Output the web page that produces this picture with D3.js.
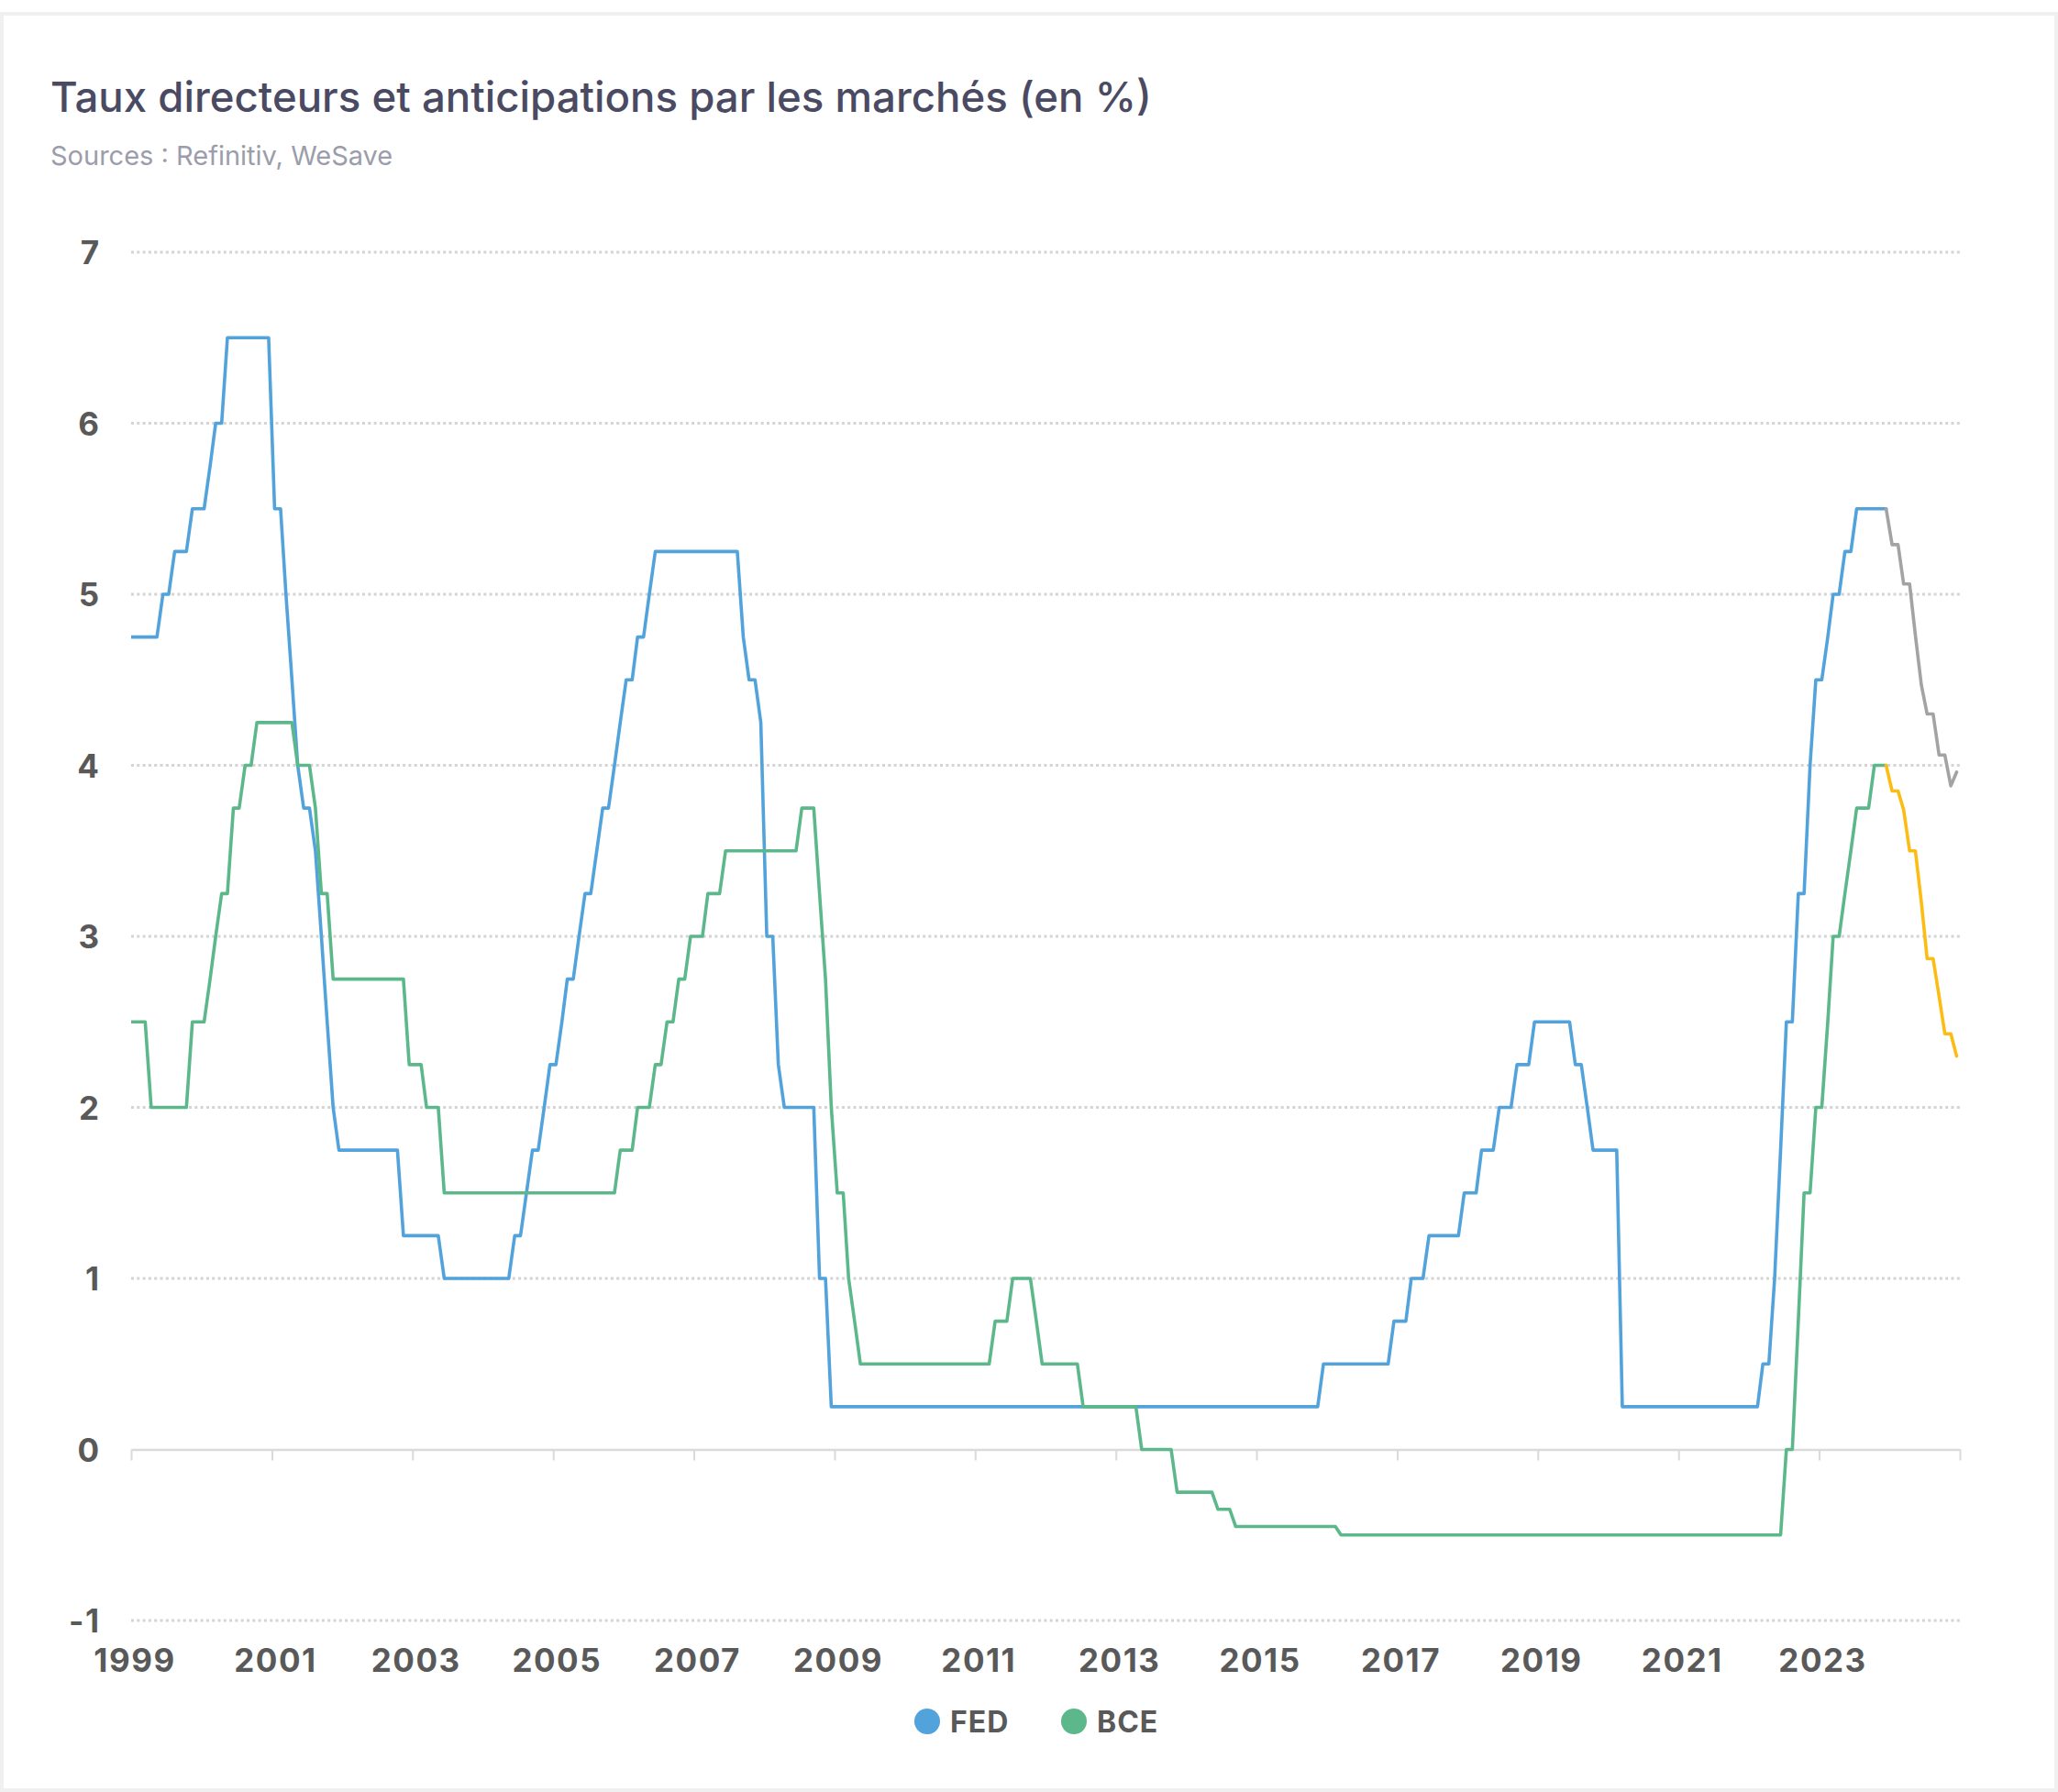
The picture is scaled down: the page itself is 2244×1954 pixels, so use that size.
<!DOCTYPE html>
<html>
<head>
<meta charset="utf-8">
<script src="https://cdn.jsdelivr.net/npm/d3@7"></script>
<style>
  html, body { margin: 0; padding: 0; background: #fff; }
  svg { display: block; font-family: Inter, "Noto Sans", sans-serif; }
</style>
</head>
<body>
<svg id="chart"></svg>
<script>
// rate after each decision month (value held until the next change)
const fedChangeMonths = ["1998-12", "1999-06", "1999-08", "1999-11", "2000-02", "2000-03", "2000-05",
  "2001-01", "2001-03", "2001-04", "2001-05", "2001-06", "2001-08", "2001-09", "2001-10", "2001-11", "2001-12",
  "2002-11", "2003-06", "2004-06", "2004-08", "2004-09", "2004-11", "2004-12",
  "2005-02", "2005-03", "2005-05", "2005-06", "2005-08", "2005-09", "2005-11", "2005-12",
  "2006-01", "2006-03", "2006-05", "2006-06", "2007-09", "2007-10", "2007-12",
  "2008-01", "2008-03", "2008-04", "2008-10", "2008-12", "2015-12", "2016-12",
  "2017-03", "2017-06", "2017-12", "2018-03", "2018-06", "2018-09", "2018-12",
  "2019-07", "2019-09", "2019-10", "2020-03", "2022-03", "2022-05", "2022-06", "2022-07",
  "2022-09", "2022-11", "2022-12", "2023-02", "2023-03", "2023-05", "2023-07"];
const fedChangeRates = [4.75, 5.00, 5.25, 5.50, 5.75, 6.00, 6.50,
  5.50, 5.00, 4.50, 4.00, 3.75, 3.50, 3.00, 2.50, 2.00, 1.75,
  1.25, 1.00, 1.25, 1.50, 1.75, 2.00, 2.25,
  2.50, 2.75, 3.00, 3.25, 3.50, 3.75, 4.00, 4.25,
  4.50, 4.75, 5.00, 5.25, 4.75, 4.50, 4.25,
  3.00, 2.25, 2.00, 1.00, 0.25, 0.50, 0.75,
  1.00, 1.25, 1.50, 1.75, 2.00, 2.25, 2.50,
  2.25, 2.00, 1.75, 0.25, 0.50, 1.00, 1.75, 2.50,
  3.25, 4.00, 4.50, 4.75, 5.00, 5.25, 5.50];

const bceChangeMonths = ["1998-12", "1999-04", "1999-11", "2000-02", "2000-03", "2000-04", "2000-06",
  "2000-08", "2000-10", "2001-05", "2001-08", "2001-09", "2001-11", "2002-12", "2003-03", "2003-06",
  "2005-12", "2006-03", "2006-06", "2006-08", "2006-10", "2006-12", "2007-03", "2007-06",
  "2008-07", "2008-10", "2008-11", "2008-12", "2009-01", "2009-03", "2009-04", "2009-05",
  "2011-04", "2011-07", "2011-11", "2011-12", "2012-07", "2013-05", "2013-11", "2014-06",
  "2014-09", "2016-03", "2022-07", "2022-09", "2022-10", "2022-12", "2023-02", "2023-03",
  "2023-05", "2023-06", "2023-07", "2023-10"];
const bceChangeRates = [2.50, 2.00, 2.50, 2.75, 3.00, 3.25, 3.75,
  4.00, 4.25, 4.00, 3.75, 3.25, 2.75, 2.25, 2.00, 1.50,
  1.75, 2.00, 2.25, 2.50, 2.75, 3.00, 3.25, 3.50,
  3.75, 3.25, 2.75, 2.00, 1.50, 1.00, 0.75, 0.50,
  0.75, 1.00, 0.75, 0.50, 0.25, 0.00, -0.25, -0.35,
  -0.45, -0.50, 0.00, 0.75, 1.50, 2.00, 2.50, 3.00,
  3.25, 3.50, 3.75, 4.00];

const lastMonth = "2023-12";

// market expectations
const forecastMonths = ["2023-12", "2024-01", "2024-02", "2024-03", "2024-04", "2024-05", "2024-06",
  "2024-07", "2024-08", "2024-09", "2024-10", "2024-11", "2024-12"];
const fedForecast = [5.50, 5.29, 5.29, 5.06, 5.06, 4.76, 4.47, 4.30, 4.30, 4.06, 4.06, 3.88, 3.96];
const bceForecast = [4.00, 3.85, 3.85, 3.74, 3.50, 3.50, 3.20, 2.87, 2.87, 2.65, 2.43, 2.43, 2.30];

const yTicks = [-1, 0, 1, 2, 3, 4, 5, 6, 7];
const xTickYears = [1999, 2001, 2003, 2005, 2007, 2009, 2011, 2013, 2015, 2017, 2019, 2021, 2023, 2025];
const xLabelYears = [1999, 2001, 2003, 2005, 2007, 2009, 2011, 2013, 2015, 2017, 2019, 2021, 2023];

const legendNames = ["FED", "BCE"];
const colors = { fed: "#52a2db", bce: "#5cb88a", fedFc: "#a3a3a3", bceFc: "#fbbd14" };

let w = 2244;
let h = 1954;
let padL = 143;
let padR = 2137;
let padT = 275;
let padB = 1767;

let svg = d3.select('#chart')
            .attr('width', w)
            .attr('height', h);

// card frame
svg.append('rect')
   .attr('x', 2)
   .attr('y', 15)
   .attr('width', w - 4)
   .attr('height', h - 17)
   .attr('fill', '#fff')
   .attr('stroke', '#f0f0f0')
   .attr('stroke-width', 4);

svg.append('text')
   .attr('x', 55)
   .attr('y', 122)
   .attr('fill', '#4a4a63')
   .style('font-size', '45.6px')
   .style('font-weight', 500)
   .text('Taux directeurs et anticipations par les marchés (en %)');

svg.append('text')
   .attr('x', 55)
   .attr('y', 180)
   .attr('fill', '#9b9dab')
   .style('font-size', '29px')
   .text('Sources : Refinitiv, WeSave');

let parseMonth = s => {
  let [yy, mm] = s.split('-').map(Number);
  return new Date(Date.UTC(yy, mm - 1, 15));
}

// turn the change list into one point per month
let expand = (months, rates, end) => {
  let out = [];
  let [yy, mm] = months[0].split('-').map(Number);
  let [ey, em] = end.split('-').map(Number);
  let i = 0;
  let rate = rates[0];
  while (yy < ey || (yy === ey && mm <= em)) {
    let key = yy + '-' + String(mm).padStart(2, '0');
    if (i < months.length && months[i] === key) {
      rate = rates[i];
      i++;
    }
    out.push({ date: new Date(Date.UTC(yy, mm - 1, 15)), value: rate });
    mm++;
    if (mm > 12) { mm = 1; yy++; }
  }
  return out;
}

let fedData = expand(fedChangeMonths, fedChangeRates, lastMonth);
let bceData = expand(bceChangeMonths, bceChangeRates, lastMonth);
let fedFcData = forecastMonths.map((m, i) => ({ date: parseMonth(m), value: fedForecast[i] }));
let bceFcData = forecastMonths.map((m, i) => ({ date: parseMonth(m), value: bceForecast[i] }));

let xSc = d3.scaleUtc()
            .domain([new Date(Date.UTC(1999, 0, 1)), new Date(Date.UTC(2025, 0, 1))])
            .range([padL, padR]);

let ySc = d3.scaleLinear()
            .domain([-1, 7])
            .range([padB, padT]);

// dotted grid
svg.append('g')
   .selectAll('line')
   .data(yTicks.filter(d => d !== 0))
   .enter()
   .append('line')
   .attr('x1', padL)
   .attr('x2', padR)
   .attr('y1', d => ySc(d))
   .attr('y2', d => ySc(d))
   .attr('stroke', '#d4d4d4')
   .attr('stroke-width', 3)
   .attr('stroke-dasharray', '3,3.3');

let yAxis = d3.axisLeft(ySc)
              .tickValues(yTicks)
              .tickSize(0)
              .tickPadding(0)
              .tickFormat(d => String(d)); // plain hyphen for -1
svg.append('g')
   .attr('id', 'y-axis')
   .attr('transform', 'translate(109.5, 0)')
   .call(yAxis)
   .call(g => g.select('.domain').remove())
   .call(g => g.selectAll('text')
               .attr('fill', '#595959')
               .attr('dy', '0.36em')
               .style('font-family', 'Inter, sans-serif')
               .style('font-size', '35px')
               .style('font-weight', 700)
               .style('letter-spacing', '1.5px'));

// x axis line sits on zero, labels go under the -1 line
let xAxis = d3.axisBottom(xSc)
              .tickValues(xTickYears.map(y => new Date(Date.UTC(y, 0, 1))))
              .tickSize(12)
              .tickSizeOuter(0)
              .tickFormat('');
svg.append('g')
   .attr('id', 'x-axis')
   .attr('transform', 'translate(0, ' + ySc(0) + ')')
   .call(xAxis)
   .call(g => g.select('.domain').attr('stroke', '#dadada').attr('stroke-width', 2.5))
   .call(g => g.selectAll('.tick line').attr('stroke', '#dadada').attr('stroke-width', 2));

svg.append('g')
   .selectAll('text')
   .data(xLabelYears)
   .enter()
   .append('text')
   .attr('x', d => xSc(new Date(Date.UTC(d, 0, 1))) + 4)
   .attr('y', 1823)
   .attr('text-anchor', 'middle')
   .attr('fill', '#595959')
   .style('font-size', '35px')
   .style('font-weight', 700)
   .style('letter-spacing', '1.5px')
   .text(d => d);

svg.append('clipPath')
   .attr('id', 'plot-clip')
   .append('rect')
   .attr('x', padL)
   .attr('y', 0)
   .attr('width', padR - padL)
   .attr('height', h);

let line = d3.line()
             .x(d => xSc(d.date))
             .y(d => ySc(d.value));

let series = [
  { data: fedData, color: colors.fed },
  { data: bceData, color: colors.bce },
  { data: fedFcData, color: colors.fedFc },
  { data: bceFcData, color: colors.bceFc }
];

svg.append('g')
   .attr('clip-path', 'url(#plot-clip)')
   .selectAll('path')
   .data(series)
   .enter()
   .append('path')
   .attr('d', d => line(d.data))
   .attr('fill', 'none')
   .attr('stroke', d => d.color)
   .attr('stroke-width', 3.6)
   .attr('stroke-linejoin', 'round')
   .attr('stroke-linecap', 'round');

// legend
let legendX = [1011, 1171];
let legend = svg.append('g')
                .selectAll('g')
                .data(legendNames)
                .enter()
                .append('g')
                .attr('transform', (d, i) => 'translate(' + legendX[i] + ', 1877)');

legend.append('circle')
      .attr('r', 14)
      .attr('fill', (d, i) => i === 0 ? colors.fed : colors.bce);

legend.append('text')
      .attr('x', 25)
      .attr('y', 11.5)
      .attr('fill', '#595959')
      .style('font-size', '32px')
      .style('font-weight', 700)
      .style('letter-spacing', '1px')
      .text(d => d);
</script>
</body>
</html>
